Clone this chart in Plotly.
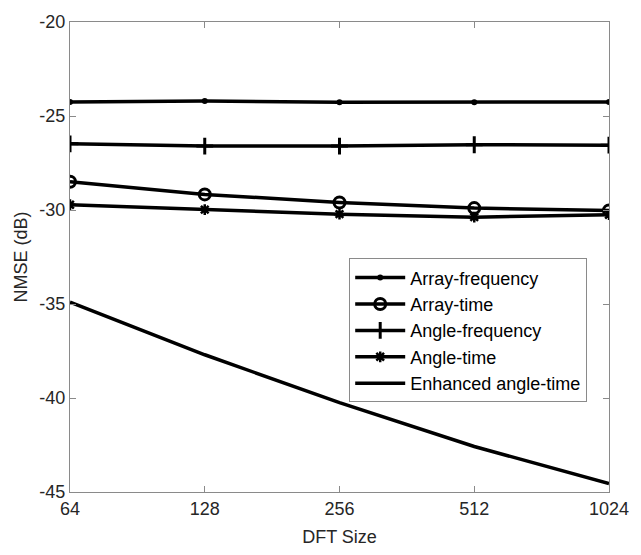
import plotly.graph_objects as go
import numpy as np

dft_size = [64, 128, 256, 512, 1024]
array_frequency = [-24.26, -24.20, -24.27, -24.27, -24.25]
array_time = [-28.50, -29.17, -29.60, -29.90, -30.03]
angle_frequency = [-26.48, -26.60, -26.60, -26.53, -26.55]
angle_time = [-29.72, -29.98, -30.22, -30.38, -30.25]
enhanced_angle_time = [-34.90, -37.70, -40.25, -42.58, -44.55]

y_ticks = [-45, -40, -35, -30, -25, -20]
y_ticktext = ["-45", "-40", "-35", "-30", "-25", "-20"]

names = ["Array-frequency", "Array-time", "Angle-frequency", "Angle-time", "Enhanced angle-time"]
series = [array_frequency, array_time, angle_frequency, angle_time, enhanced_angle_time]
markers = [
    dict(symbol="circle", size=6, color="black"),
    dict(symbol="circle-open", size=11, color="black", line=dict(width=3, color="black")),
    dict(symbol="cross-thin-open", size=12, color="black", line=dict(width=3, color="black")),
    dict(symbol="asterisk-open", size=9, color="black", line=dict(width=2.5, color="black")),
    None,
]

fig = go.Figure()
for nm, ys, mk in zip(names, series, markers):
    if mk is None:
        fig.add_trace(go.Scatter(x=dft_size, y=ys, name=nm, mode="lines",
                                 line=dict(color="black", width=3.5)))
    else:
        fig.add_trace(go.Scatter(x=dft_size, y=ys, name=nm, mode="lines+markers",
                                 line=dict(color="black", width=3.5), marker=mk))

axis_common = dict(
    showline=True, linecolor="#8a8a8a", linewidth=1.3, mirror="ticks",
    ticks="inside", ticklen=6, tickcolor="#8a8a8a", tickwidth=1,
    showgrid=False, zeroline=False,
    tickfont=dict(family="Liberation Sans, Arial", size=18, color="#262626"),
    title_font=dict(family="Liberation Sans, Arial", size=18, color="#262626"),
)

fig.update_xaxes(type="log", range=[np.log10(64), np.log10(1024)],
                 tickvals=dft_size, ticktext=[str(v) for v in dft_size],
                 title_text="DFT Size", title_standoff=12, **axis_common)
fig.update_yaxes(range=[-45, -20], tickvals=y_ticks, ticktext=y_ticktext,
                 title_text="NMSE (dB)", title_standoff=6, **axis_common)

fig.update_layout(
    width=641, height=555,
    margin=dict(l=70, r=23, t=17, b=59),
    plot_bgcolor="white", paper_bgcolor="white",
    font=dict(family="Liberation Sans, Arial", size=18, color="black"),
    legend=dict(x=0.518, y=0.497, xanchor="left", yanchor="top",
                bgcolor="white", bordercolor="#8a8a8a", borderwidth=1,
                font=dict(family="Liberation Sans, Arial", size=18, color="black"),
                itemwidth=50, tracegroupgap=0),
)

fig.write_html("out.html")
